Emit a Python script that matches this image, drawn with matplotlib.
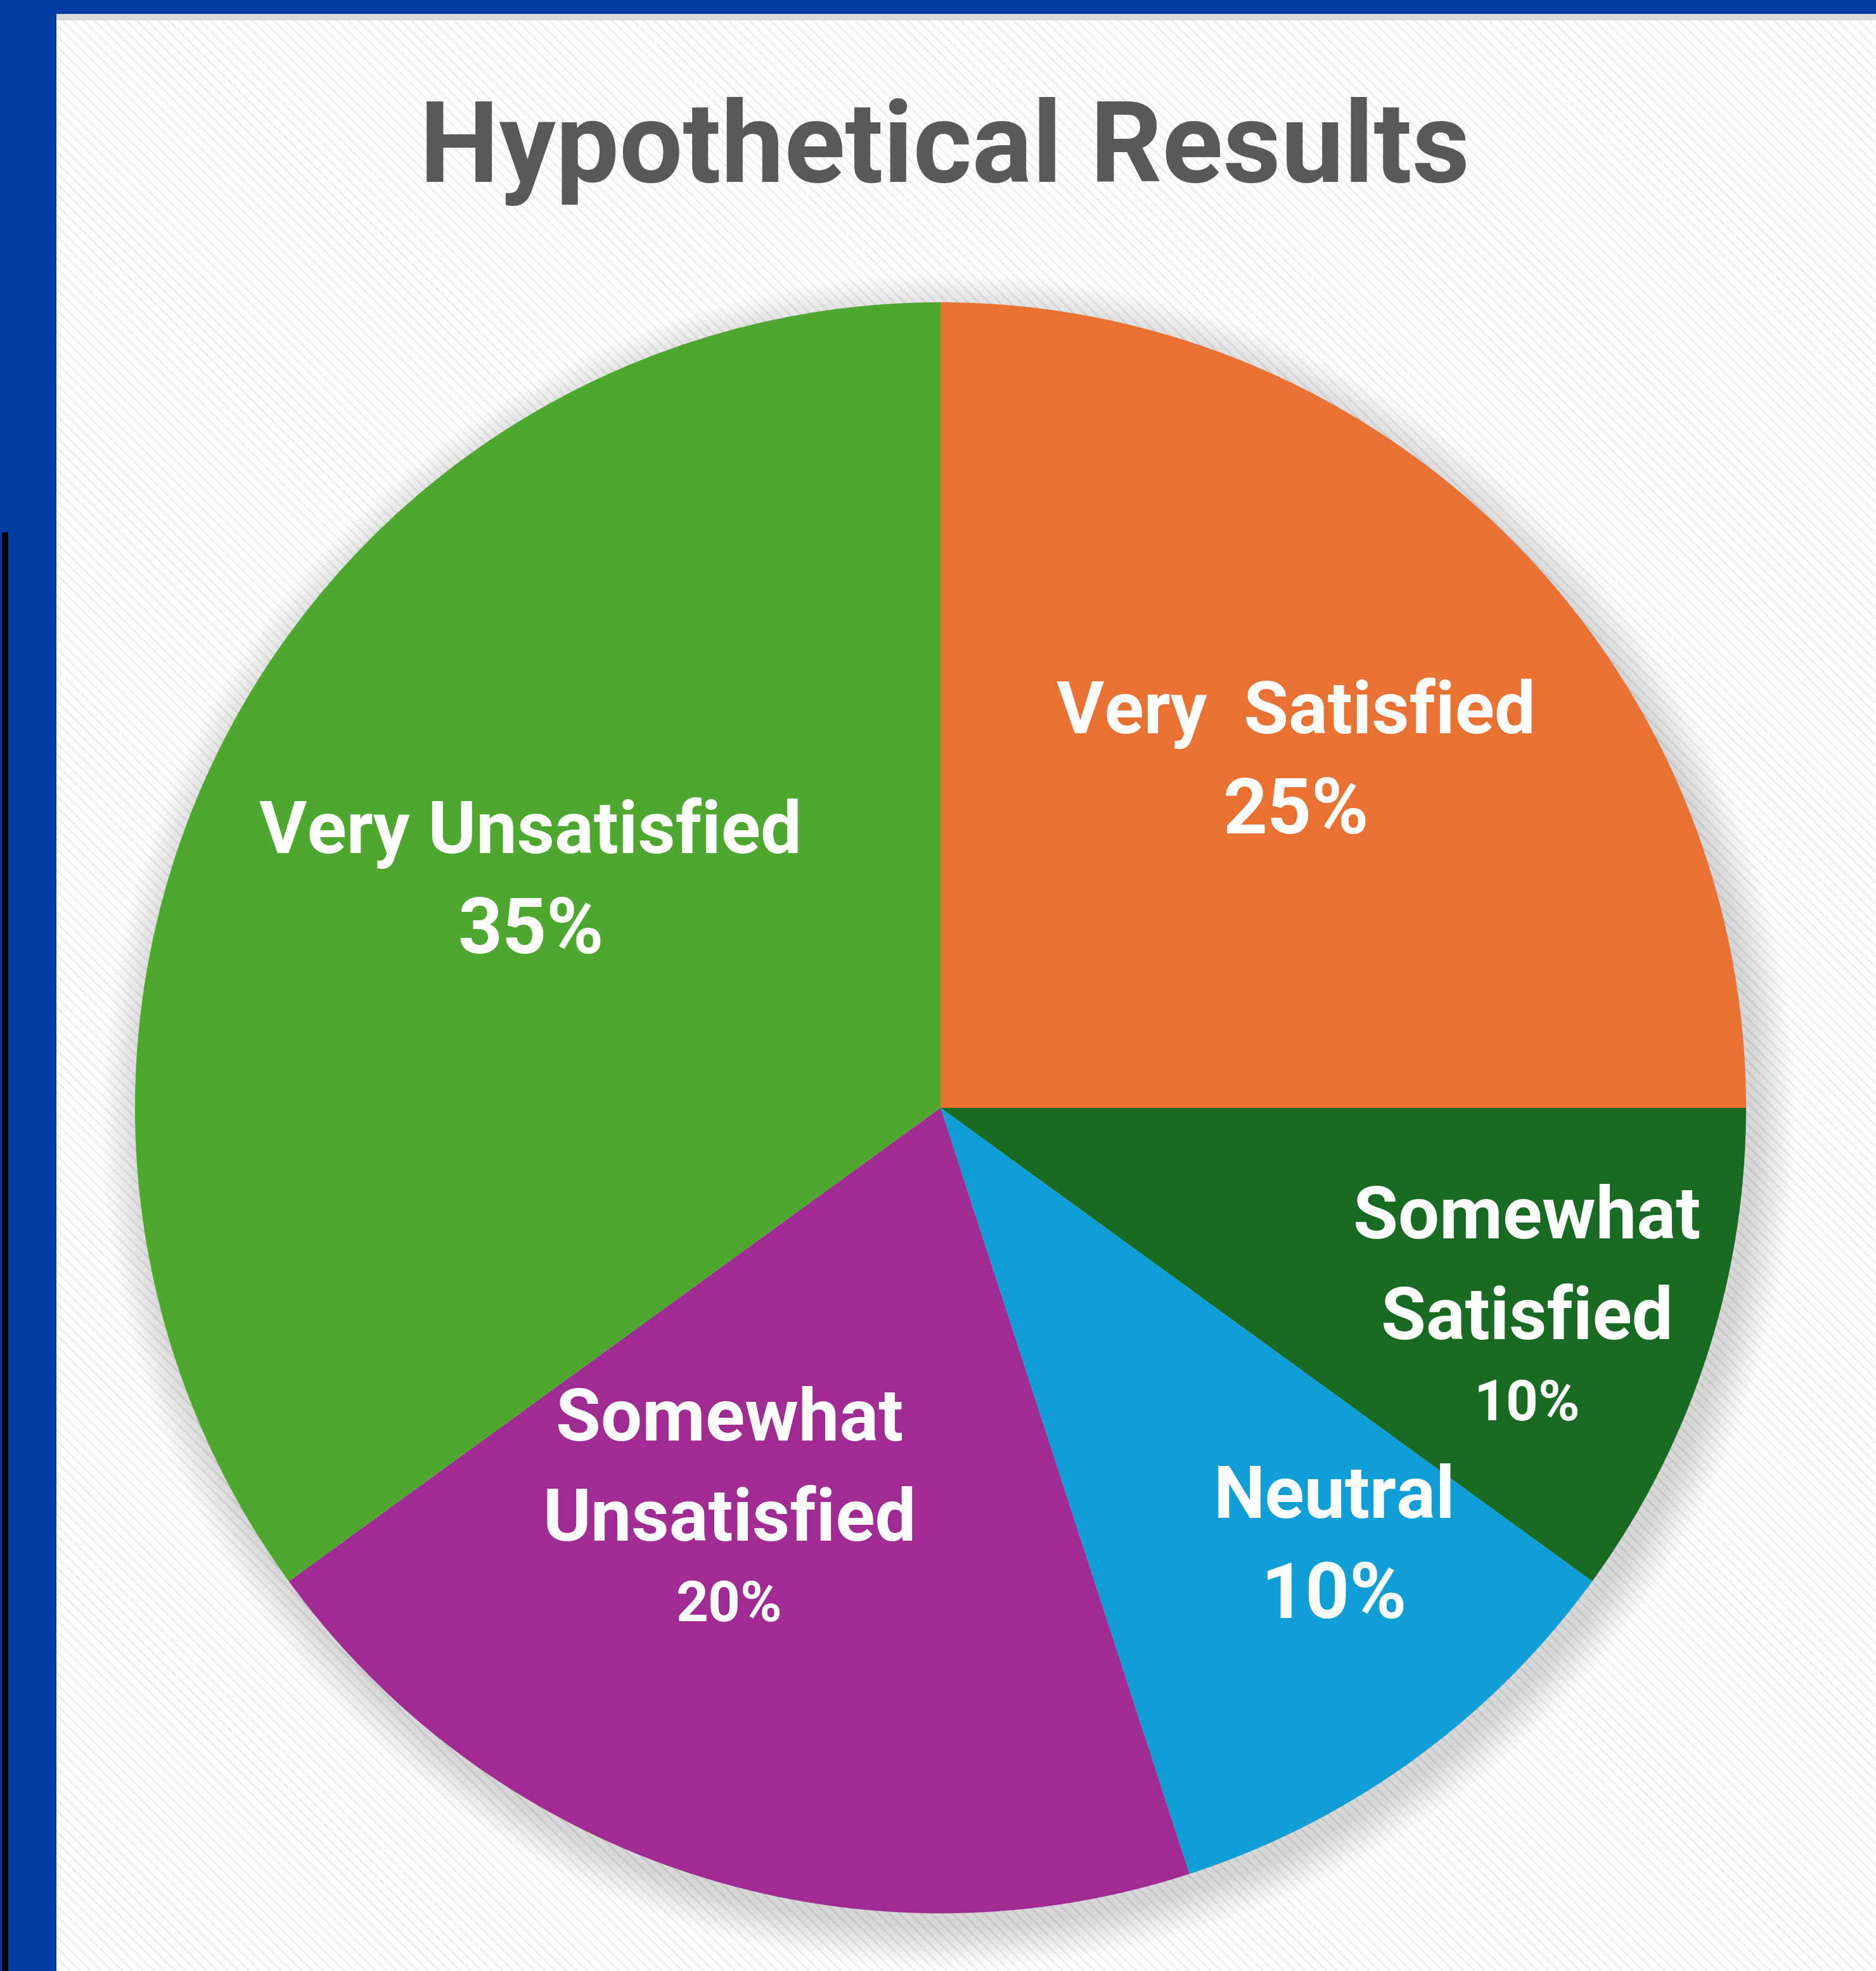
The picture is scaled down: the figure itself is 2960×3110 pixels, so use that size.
"""
Hypothetical Results - satisfaction pie chart
"""

import matplotlib
matplotlib.use('Agg')
import matplotlib.pyplot as plt
from matplotlib import font_manager
from matplotlib.patches import Rectangle, Circle

W, H = 2960, 3110
DPI = 100

# data
categories = ['Very Satisfied', 'Somewhat Satisfied', 'Neutral',
              'Somewhat Unsatisfied', 'Very Unsatisfied']
shares = [25, 10, 10, 20, 35]
slice_colors = ['#E97132', '#196B24', '#0F9ED5', '#A02B93', '#4EA72E']

# how each data label is broken into lines
label_lines = [['Very  Satisfied'], ['Somewhat', 'Satisfied'], ['Neutral'],
               ['Somewhat', 'Unsatisfied'], ['Very Unsatisfied']]
small_pct = [False, True, False, True, False]

# label layout (pie units, radius = 1): x centre, baseline of each line
label_x = [0.441, 0.728, 0.489, -0.262, -0.509]
label_baselines = [[0.465, 0.341],
                   [-0.162, -0.287, -0.388],
                   [-0.509, -0.633],
                   [-0.413, -0.537, -0.637],
                   [0.316, 0.192]]

# pie placement in pixels (from top-left)
CX, CY, R = 1484, 1748, 1271


def pick_font(names):
    for n in names:
        try:
            font_manager.findfont(font_manager.FontProperties(family=n),
                                  fallback_to_default=False)
            return n
        except ValueError:
            pass
    return 'DejaVu Sans'


FONT = pick_font(['Liberation Sans Narrow', 'Roboto', 'Liberation Sans'])
plt.rcParams['font.family'] = [FONT, 'DejaVu Sans']
plt.rcParams['hatch.linewidth'] = 2.4
plt.rcParams['hatch.color'] = '#f0f0f0'


def fx(x):
    return x / W


def fy(y):
    return 1 - y / H


fig = plt.figure(figsize=(W / DPI, H / DPI), dpi=DPI, facecolor='white')

# frame: blue border, grey strip, textured panel
fig.add_artist(Rectangle((0, 0), 1, 1, transform=fig.transFigure,
                         facecolor='#003DA5', edgecolor='none', zorder=-3))
fig.add_artist(Rectangle((fx(89), 0), 1 - fx(89), fy(22), transform=fig.transFigure,
                         facecolor='#d9d9d9', edgecolor='none', zorder=-2))
fig.add_artist(Rectangle((fx(89), 0), 1 - fx(89), fy(32), transform=fig.transFigure,
                         facecolor='white', edgecolor='#f0f0f0', linewidth=0,
                         hatch='\\\\', zorder=-1))
fig.add_artist(Rectangle((fx(3), 0), fx(10), fy(840), transform=fig.transFigure,
                         facecolor='black', edgecolor='none', zorder=-1))

# axes cover the whole figure, one data unit = R pixels
ax = fig.add_axes([0, 0, 1, 1])
ax.patch.set_alpha(0)

# soft shadow around the pie
n_shadow = 20
for k in range(n_shadow):
    r = 1.0 + 0.0026 * (n_shadow - k)
    ax.add_patch(Circle((0.010, -0.016), r, facecolor='black',
                        edgecolor='none', alpha=0.007, zorder=0))

wedges, _ = ax.pie(shares, colors=slice_colors, startangle=90,
                   counterclock=False, radius=1.0,
                   wedgeprops=dict(linewidth=0, zorder=1))

ax.set_xlim(-CX / R, (W - CX) / R)
ax.set_ylim((CY - H) / R, CY / R)
ax.set_aspect('auto')
ax.axis('off')

name_size = 83
big = 88
small = 64
for i, name in enumerate(categories):
    lines = label_lines[i]
    bases = label_baselines[i]
    for line, yb in zip(lines, bases):
        ax.text(label_x[i], yb, line, ha='center', va='baseline',
                color='white', fontsize=name_size, fontweight='bold', zorder=5)
    pct = f'{shares[i]}%'
    ax.text(label_x[i], bases[len(lines)], pct, ha='center', va='baseline',
            color='white', fontsize=small if small_pct[i] else big,
            fontweight='bold', zorder=5)

fig.text(fx(1491), fy(287), 'Hypothetical Results', ha='center', va='baseline',
         color='#595959', fontsize=128, fontweight='bold')

fig.savefig('out.png', dpi=DPI, facecolor=fig.get_facecolor())
